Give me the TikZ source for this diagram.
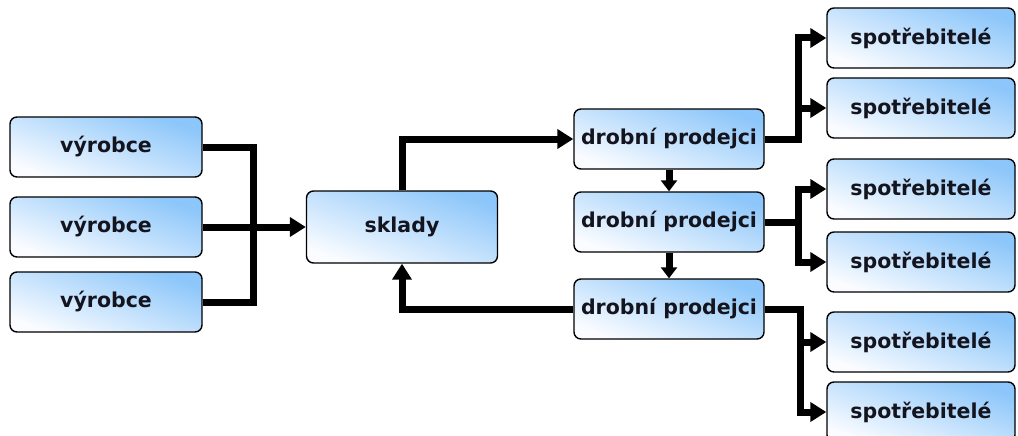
\documentclass[tikz,border=0pt]{standalone}
\usepackage{fontspec}
\setmainfont{DejaVu Sans}
\usetikzlibrary{arrows.meta}
\definecolor{boxblue}{RGB}{140,198,250}
\definecolor{boxwhite}{RGB}{250,252,255}
\definecolor{ink}{RGB}{20,20,30}
\begin{document}
\begin{tikzpicture}[x=1pt,y=-1pt,
  box/.style={draw=black, line width=1.4pt, rounded corners=7pt,
    top color=boxblue, bottom color=boxwhite, shading angle=-20,
    font=\bfseries\fontsize{20.5}{24}\selectfont, text=ink,
    inner sep=0pt, minimum height=60pt},
  conn/.style={line width=7pt, line join=miter},
  arr/.style={conn, -{Triangle[length=16pt,width=19pt]}},
  arrs/.style={conn, -{Triangle[length=11pt,width=16pt]}}]
\fill[white] (0,0) rectangle (1018,436);
\useasboundingbox (0,0) rectangle (1018,436);

% producers
\node[box, minimum width=192pt] (v1) at (106,147) {výrobce};
\node[box, minimum width=192pt] (v2) at (106,227) {výrobce};
\node[box, minimum width=192pt] (v3) at (106,302) {výrobce};

% warehouses
\node[box, minimum width=191pt, minimum height=72pt] (sk) at (402,227) {sklady};

% retailers
\node[box, minimum width=190pt] (d1) at (669,139) {drobní prodejci};
\node[box, minimum width=190pt] (d2) at (669,222) {drobní prodejci};
\node[box, minimum width=190pt] (d3) at (669,309) {drobní prodejci};

% consumers
\node[box, minimum width=188pt] (s1) at (921,38)  {spotřebitelé};
\node[box, minimum width=188pt] (s2) at (921,108) {spotřebitelé};
\node[box, minimum width=188pt] (s3) at (921,189) {spotřebitelé};
\node[box, minimum width=188pt] (s4) at (921,262) {spotřebitelé};
\node[box, minimum width=188pt] (s5) at (921,342) {spotřebitelé};
\node[box, minimum width=188pt] (s6) at (921,412) {spotřebitelé};

% junction points
\coordinate (j)  at (253,227);
\coordinate (k1) at (798,139);
\coordinate (k2) at (798,222);
\coordinate (k3) at (800,309);

% producers -> warehouses
\draw[conn] (v1.east) -| (j) |- (v3.east);
\draw[arr] (v2.east) -- (sk.west);

% warehouses <-> retailers
\draw[arr] (sk.north) |- (d1.west);
\draw[arr] (d3.west) -| (sk.south);
\draw[arrs] (d1.south) -- (d2.north);
\draw[arrs] (d2.south) -- (d3.north);

% retailers -> consumers
\draw[arr] (d1.east) -- (k1) |- (s1.west);
\draw[arr, line cap=rect] (k1) |- (s2.west);
\draw[arr] (d2.east) -- (k2) |- (s3.west);
\draw[arr, line cap=rect] (k2) |- (s4.west);
\draw[arr] (d3.east) -- (k3) |- (s5.west);
\draw[arr, line cap=rect] (k3) |- (s6.west);
\end{tikzpicture}
\end{document}
